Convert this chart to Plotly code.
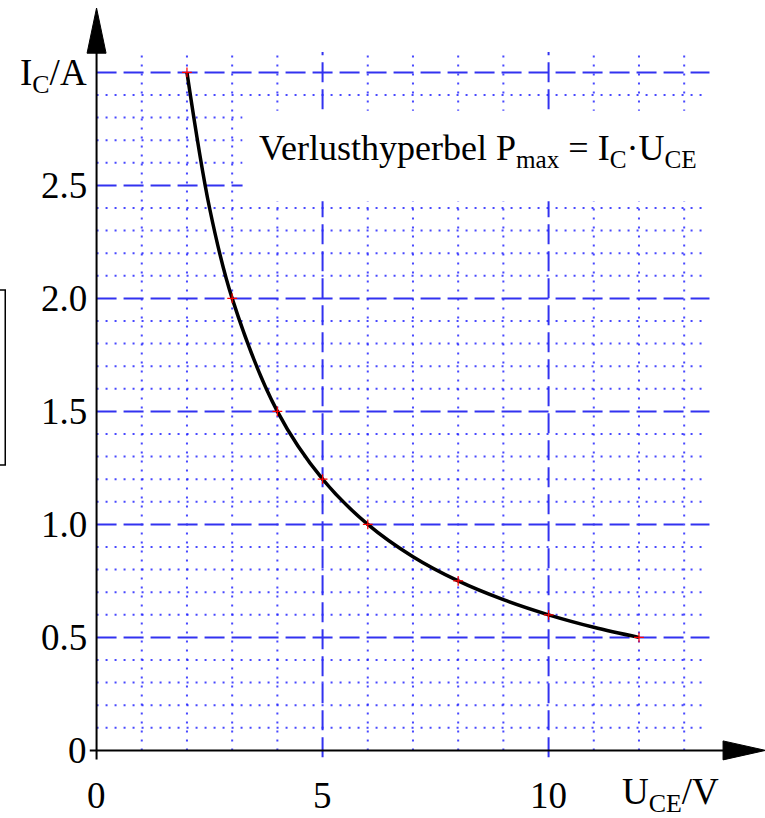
#!/usr/bin/env python
import plotly.graph_objects as go

# power loss hyperbola I_C = P_max / U_CE
u_curve = [2, 2.5, 3, 4, 5, 6, 7, 8, 9, 10, 11, 12]
i_curve = [3.0, 2.4, 2.0, 1.5, 1.2, 1.0, 0.857, 0.75, 0.667, 0.6, 0.545, 0.5]

# points marked with small red crosses
u_marked = [2, 3, 4, 5, 6, 8, 10, 12]
i_marked = [3.0, 2.0, 1.5, 1.2, 1.0, 0.75, 0.6, 0.5]

y_ticks = [0, 0.5, 1.0, 1.5, 2.0, 2.5, 3.0]
y_tick_text = ["0", "0.5", "1.0", "1.5", "2.0", "2.5", "I<sub>C</sub>/A"]
x_ticks = [0, 5, 10]
x_tick_text = ["0", "5", "10"]

x_grid = list(range(1, 14))
y_grid = [k / 10 for k in range(1, 31)]

FONT = "Liberation Serif"
DOT = "rgba(40,40,255,0.85)"
DASH = "rgb(50,50,240)"
DOT_STYLE = "2px,7px"
DASH_STYLE = "20px,7px"

fig = go.Figure()

shapes = []
# vertical grid lines
for x in x_grid:
    major = x % 5 == 0
    shapes.append(dict(
        type="line", xref="x", yref="y", layer="below",
        x0=x, x1=x, y0=-0.03 if major else 0, y1=3.09,
        line=dict(color=DASH if major else DOT, width=2,
                  dash=DASH_STYLE if major else DOT_STYLE),
    ))
# horizontal grid lines
for y in y_grid:
    major = round(y * 10) % 5 == 0
    shapes.append(dict(
        type="line", xref="x", yref="y", layer="below",
        x0=0, x1=13.56 if major else 13.45, y0=y, y1=y,
        line=dict(color=DASH if major else DOT, width=2,
                  dash=DASH_STYLE if major else DOT_STYLE),
    ))
# white box behind the formula text
shapes.append(dict(
    type="rect", xref="x", yref="y", layer="below",
    x0=3.23, x1=14.0, y0=2.43, y1=2.83,
    fillcolor="white", line=dict(width=0),
))
# axes
shapes.append(dict(type="line", xref="x", yref="y", x0=0, x1=0, y0=-0.04, y1=3.09,
                   line=dict(color="black", width=2)))
shapes.append(dict(type="line", xref="x", yref="y", x0=-0.15, x1=13.9, y0=0, y1=0,
                   line=dict(color="black", width=2)))
shapes.append(dict(type="path", xref="x", yref="y",
                   path="M -0.21 3.085 L 0.21 3.085 L 0 3.285 Z",
                   fillcolor="black", line=dict(color="black", width=1)))
shapes.append(dict(type="path", xref="x", yref="y",
                   path="M 13.86 0.042 L 13.86 -0.042 L 14.8 0 Z",
                   fillcolor="black", line=dict(color="black", width=1)))
# partial frame at the left edge
shapes.append(dict(type="rect", xref="paper", yref="paper",
                   x0=-0.2, x1=-0.114, y0=(773 - 465) / 773, y1=(773 - 290) / 773,
                   line=dict(color="black", width=1.5)))

fig.add_trace(go.Scatter(
    x=u_curve, y=i_curve, mode="lines",
    line=dict(color="black", width=3.5, shape="spline", smoothing=1.0),
    hoverinfo="skip", showlegend=False,
))
fig.add_trace(go.Scatter(
    x=u_marked, y=i_marked, mode="markers",
    marker=dict(symbol="cross-thin", size=7, line=dict(color="red", width=1.2)),
    showlegend=False,
))

annotations = []
for v, t in zip(y_ticks, y_tick_text):
    annotations.append(dict(
        x=0, y=v, xref="x", yref="y", text=t, showarrow=False,
        xanchor="right", yanchor="middle", xshift=-8, yshift=-3 if v == 3.0 else 0,
        font=dict(family=FONT, size=37, color="black"),
    ))
for v, t in zip(x_ticks, x_tick_text):
    annotations.append(dict(
        x=v, y=0, xref="x", yref="y", text=t, showarrow=False,
        xanchor="center", yanchor="middle", yshift=-45,
        font=dict(family=FONT, size=37, color="black"),
    ))
annotations.append(dict(
    x=12.7, y=0, xref="x", yref="y", text="U<sub>CE</sub>/V", showarrow=False,
    xanchor="center", yanchor="middle", yshift=-44,
    font=dict(family=FONT, size=37, color="black"),
))
annotations.append(dict(
    x=3.56, y=2.655, xref="x", yref="y",
    text="Verlusthyperbel P<sub>max</sub> = I<sub>C</sub>·U<sub>CE</sub>",
    showarrow=False, xanchor="left", yanchor="middle",
    font=dict(family=FONT, size=36, color="black"),
))

fig.update_layout(
    width=765, height=818,
    margin=dict(l=83, r=0, t=0, b=45),
    paper_bgcolor="white", plot_bgcolor="white",
    xaxis=dict(range=[-0.3, 14.788], visible=False, fixedrange=True),
    yaxis=dict(range=[-0.1, 3.3204], visible=False, fixedrange=True),
    shapes=shapes, annotations=annotations,
    showlegend=False,
)

# the page body has a default 8px margin; drop it so the figure sits at the corner
fig.write_html("out.html", config={"displayModeBar": False},
               post_script="document.body.style.margin = '0';")
